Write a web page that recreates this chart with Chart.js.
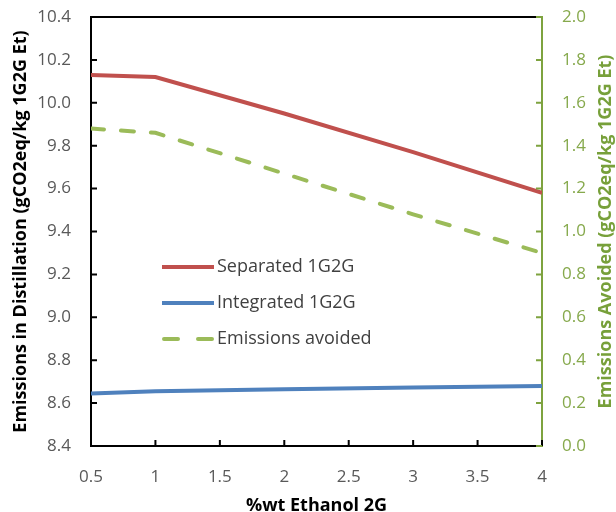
<!DOCTYPE html>
<html>
<head>
<meta charset="utf-8">
<script src="https://cdn.jsdelivr.net/npm/chart.js@4.4.1/dist/chart.umd.min.js"></script>
<style>
  body { margin: 0; background: #fff; }
  #wrap { width: 616px; height: 512px; position: relative; }
</style>
</head>
<body>
<div id="wrap"><canvas id="myChart"></canvas></div>
<script>
const ethanol2G = [0.5, 1, 2, 3, 4];
const separated = [10.13, 10.12, 9.95, 9.77, 9.58];
const integrated = [8.645, 8.655, 8.665, 8.673, 8.68];
const avoided = [1.48, 1.46, 1.27, 1.08, 0.90];

const xTicks = [0.5, 1, 1.5, 2, 2.5, 3, 3.5, 4];
const leftTicks = [8.4, 8.6, 8.8, 9.0, 9.2, 9.4, 9.6, 9.8, 10.0, 10.2, 10.4];
const rightTicks = [0, 0.2, 0.4, 0.6, 0.8, 1.0, 1.2, 1.4, 1.6, 1.8, 2.0];

const rightTitle = 'Emissions Avoided (gCO2eq/kg 1G2G Et)';

const RED = '#c0504d';
const BLUE = '#4f81bd';
const GREEN = '#9bbb59';
const GREEN_AXIS = '#7ea33f';
const GREEN_TEXT = '#86a94c';
const FONT = "'Open Sans', sans-serif";

const toPoints = (ys) => ethanol2G.map((x, i) => ({x: x, y: ys[i]}));
const setTicks = (list) => (scale) => { scale.ticks = list.map(v => ({value: v})); };
// keep tick label overflow from pushing the plot area around
const fixSize = (w, h) => (s) => {
  if (w) s.width = w;
  if (h) s.height = h;
  s.paddingTop = 0; s.paddingBottom = 0; s.paddingLeft = 0; s.paddingRight = 0;
};

// inward tick marks, top border, right title and the legend inside the plot
const extras = {
  id: 'extras',
  afterDraw(chart) {
    const c = chart.ctx;
    const {left, right, top, bottom} = chart.chartArea;
    const sx = chart.scales.x, sl = chart.scales.y, sr = chart.scales.y2;
    c.save();
    c.lineWidth = 2;
    c.strokeStyle = '#000';
    c.beginPath();
    c.moveTo(left - 1, top); c.lineTo(right, top);
    sl.ticks.forEach(t => { const y = sl.getPixelForValue(t.value); c.moveTo(left, y); c.lineTo(left + 6, y); });
    sx.ticks.forEach(t => { const x = sx.getPixelForValue(t.value); c.moveTo(x, bottom); c.lineTo(x, bottom - 6); });
    c.stroke();
    c.strokeStyle = GREEN_AXIS;
    c.beginPath();
    sr.ticks.forEach(t => { const y = sr.getPixelForValue(t.value); c.moveTo(right, y); c.lineTo(right - 6, y); });
    c.stroke();

    // right axis title, reading upwards
    c.save();
    c.translate(606, (top + bottom) / 2);
    c.rotate(-Math.PI / 2);
    c.font = 'bold 18px ' + FONT;
    c.fillStyle = '#77a03a';
    c.textAlign = 'center';
    c.textBaseline = 'middle';
    c.fillText(rightTitle, 0, 0);
    c.restore();

    // legend
    const lx = 162, ly = 267, gap = 36;
    c.font = '18px ' + FONT;
    c.textBaseline = 'middle';
    c.fillStyle = '#404040';
    chart.data.datasets.forEach((ds, i) => {
      const y = ly + i * gap;
      c.strokeStyle = ds.borderColor;
      c.lineWidth = 4;
      c.lineCap = ds.borderDash ? 'round' : 'butt';
      c.setLineDash(ds.borderDash ? [14, 20] : []);
      c.beginPath();
      c.moveTo(lx + (ds.borderDash ? 2 : 0), y); c.lineTo(lx + 52, y);
      c.stroke();
      c.setLineDash([]);
      c.fillText(ds.label, lx + 55, y);
    });
    c.restore();
  }
};

const ctx = document.getElementById('myChart').getContext('2d');

new Chart(ctx, {
  type: 'line',
  data: {
    datasets: [
      {
        label: 'Separated 1G2G',
        data: toPoints(separated),
        borderColor: RED,
        borderWidth: 4,
        yAxisID: 'y',
      },
      {
        label: 'Integrated 1G2G',
        data: toPoints(integrated),
        borderColor: BLUE,
        borderWidth: 4,
        yAxisID: 'y',
      },
      {
        label: 'Emissions avoided',
        data: toPoints(avoided),
        borderColor: GREEN,
        borderWidth: 4,
        borderDash: [13, 17],
        borderCapStyle: 'round',
        yAxisID: 'y2',
      }
    ]
  },
  options: {
    responsive: true,
    maintainAspectRatio: false,
    animation: false,
    layout: { padding: { top: 17, left: 0, right: 0, bottom: 0 } },
    elements: { point: { radius: 0 }, line: { tension: 0 } },
    plugins: { legend: { display: false }, tooltip: { enabled: false } },
    scales: {
      x: {
        type: 'linear',
        min: 0.5,
        max: 4,
        afterBuildTicks: setTicks(xTicks),
        afterFit: fixSize(0, 66),
        grid: { display: false, drawTicks: false },
        border: { color: '#000', width: 2 },
        ticks: {
          color: '#595959',
          font: { family: FONT, size: 17 },
          padding: 21,
          callback: (v) => String(v)
        },
        title: {
          display: true,
          text: '%wt Ethanol 2G',
          color: '#000',
          font: { family: FONT, size: 18, weight: 'bold' },
          padding: { top: 0, bottom: -5 }
        }
      },
      y: {
        position: 'left',
        min: 8.4,
        max: 10.4,
        afterBuildTicks: setTicks(leftTicks),
        afterFit: fixSize(91, 0),
        grid: { display: false, drawTicks: false },
        border: { color: '#000', width: 2 },
        ticks: {
          color: '#595959',
          font: { family: FONT, size: 17 },
          padding: 20,
          callback: (v) => v.toFixed(1)
        },
        title: {
          display: true,
          text: 'Emissions in Distillation (gCO2eq/kg 1G2G Et)',
          color: '#000',
          font: { family: FONT, size: 18, weight: 'bold' },
          padding: { top: 10, bottom: 0 }
        }
      },
      y2: {
        position: 'right',
        min: 0,
        max: 2,
        afterBuildTicks: setTicks(rightTicks),
        afterFit: fixSize(74, 0),
        grid: { display: false, drawTicks: false },
        border: { color: GREEN_AXIS, width: 2 },
        ticks: {
          color: GREEN_TEXT,
          font: { family: FONT, size: 17 },
          padding: 20,
          callback: (v) => v.toFixed(1)
        },
        title: { display: false }
      }
    }
  },
  plugins: [extras]
});
</script>
</body>
</html>
